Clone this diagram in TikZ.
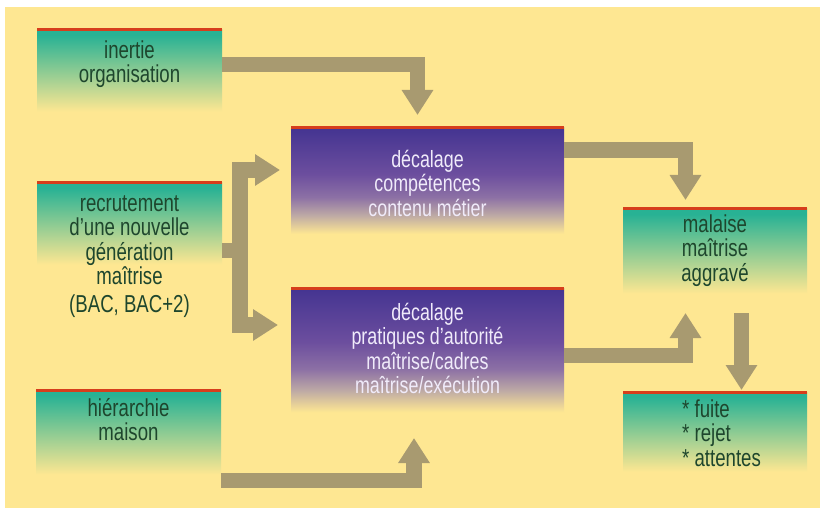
\documentclass[tikz,border=0pt]{standalone}
\usepackage{fontspec}
\setmainfont{Liberation Sans}[FakeStretch=0.76]
\usetikzlibrary{arrows.meta,calc}
\definecolor{bgy}{RGB}{254,231,146}
\definecolor{tealc}{RGB}{40,178,148}
\definecolor{redl}{RGB}{214,62,28}
\definecolor{pur1}{RGB}{68,52,145}
\definecolor{pur2}{RGB}{108,78,158}
\definecolor{pur3}{RGB}{140,112,165}
\definecolor{pmauve}{RGB}{190,170,165}
\definecolor{khaki}{RGB}{168,154,112}
\definecolor{gtext}{RGB}{30,70,45}
\definecolor{ptext}{RGB}{240,235,250}
\pgfdeclareverticalshading{greenfade}{100bp}{color(0bp)=(bgy); color(27bp)=(bgy); color(72bp)=(tealc); color(100bp)=(tealc)}
\pgfdeclareverticalshading{purplefade}{100bp}{color(0bp)=(bgy); color(29bp)=(bgy); color(37bp)=(pmauve); color(45bp)=(pur3); color(55bp)=(pur2); color(75bp)=(pur1); color(100bp)=(pur1)}
\tikzset{
  gbox/.style={shade, shading=greenfade, minimum width=185pt, inner sep=0pt, outer sep=0pt},
  pbox/.style={shade, shading=purplefade, minimum width=273pt, inner sep=0pt, outer sep=0pt},
  topline/.style={draw=redl, line width=3pt},
  gtxt/.style={text=gtext, font=\fontsize{24.5}{24.5}\selectfont, align=center, inner sep=0pt, anchor=north},
  ptxt/.style={text=ptext, font=\fontsize{23.5}{24.5}\selectfont, align=center, inner sep=0pt, anchor=north},
  flow/.style={draw=khaki, line width=15.5pt, line join=miter, -{Triangle[length=25pt,width=30pt]}},
  flowboth/.style={draw=khaki, line width=15.5pt, line join=miter, {Triangle[length=25pt,width=30pt]}-{Triangle[length=25pt,width=30pt]}},
  flowplain/.style={draw=khaki, line width=15.5pt, line join=miter}
}
\begin{document}
\begin{tikzpicture}[x=1pt,y=-1pt]
\useasboundingbox (0,0) rectangle (820,508);
\fill[bgy] (5,7) rectangle (820,508);

% boxes
\node[gbox, minimum height=85pt] (b1) at (129.5,72.5) {};
\node[gbox, minimum height=85pt] (b2) at (129.5,225.5) {};
\node[gbox, minimum height=88pt] (b3) at (128.5,434) {};
\node[pbox, minimum height=115pt] (p1) at (427.5,185.5) {};
\node[pbox, minimum height=135pt] (p2) at (427.5,355.5) {};
\node[gbox, minimum width=184pt, minimum height=88pt] (m) at (715,253) {};
\node[gbox, minimum width=184pt, minimum height=83pt] (f) at (715,433.5) {};

\foreach \b in {b1,b2,b3,p1,p2,m,f}{
  \draw[topline] (\b.north west) -- (\b.north east);
}

% texts
\node[gtxt] (t1) at ($(b1.north)+(0,9)$) {\rule{0pt}{19pt}inertie\\organisation};
\node[gtxt] (t2) at ($(b2.north)+(0,9)$) {\rule{0pt}{19pt}recrutement\\d’une nouvelle\\génération\\maîtrise\\[3pt](BAC, BAC+2)};
\node[gtxt] (t3) at ($(b3.north)+(0,7)$) {\rule{0pt}{19pt}hiérarchie\\maison};
\node[ptxt] (t4) at ($(p1.north)+(0,20)$) {\rule{0pt}{19pt}décalage\\compétences\\contenu métier};
\node[ptxt] (t5) at ($(p2.north)+(0,13)$) {\rule{0pt}{19pt}décalage\\pratiques d’autorité\\maîtrise/cadres\\maîtrise/exécution};
\node[gtxt] (t6) at ($(m.north)+(0,4)$) {\rule{0pt}{19pt}malaise\\maîtrise\\aggravé};
\node[gtxt, align=left, anchor=north west] (t7) at ($(f.north west)+(59,6)$) {\rule{0pt}{19pt}* fuite\\* rejet\\* attentes};

% connectors
\draw[flow] ($(b1.east)+(0,-8)$) -| ($(p1.north)+(-10,-13)$);
\coordinate (j) at ($(b2.east)+(18,25)$);
\draw[flowplain] ($(b2.east)+(0,25)$) -- ($(j)+(7.75,0)$);
\draw[flowboth] ($(p1.west)+(-11,-15.5)$) -| (j) |- ($(p2.west)+(-13,-30.5)$);
\draw[flow] ($(b3.east)+(0,46.5)$) -| ($(p2.south)+(-13.5,15)$);
\draw[flow] ($(p1.east)+(0,-35.5)$) -| ($(m.north)+(-29.5,-9)$);
\draw[flow] (p2.east) -| ($(m.south)+(-29.5,16)$);
\draw[flow] ($(m.south)+(26.5,16)$) -- ($(f.north)+(26.5,-2)$);
\end{tikzpicture}
\end{document}
